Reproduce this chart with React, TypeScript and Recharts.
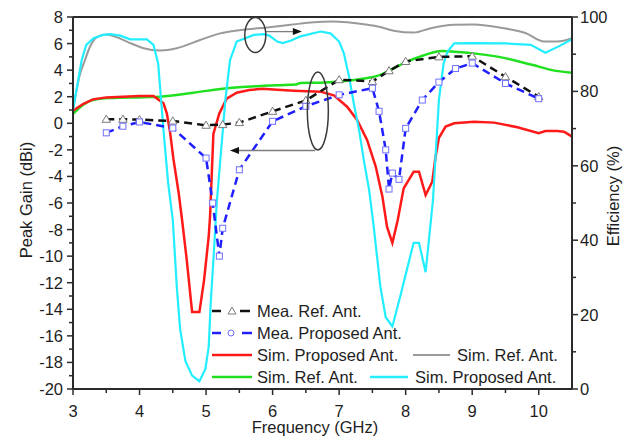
import React from "react";
import { ComposedChart, Line, XAxis, YAxis, ReferenceLine, ReferenceDot } from "recharts";

// Frequency (GHz) / value pairs
const meaRefGain = [
  [3.5, 0.3], [3.75, 0.3], [4.0, 0.28], [4.5, 0.17], [5.0, -0.15], [5.25, -0.1], [5.5, 0.05],
  [6.0, 0.9], [6.5, 1.72], [7.0, 3.28], [7.5, 3.15], [7.75, 3.95], [8.0, 4.65], [8.5, 5.0],
  [9.0, 5.05], [9.5, 3.5], [10.0, 2.0],
];

const meaPropGain = [
  [3.5, -0.72], [3.75, -0.22], [4.0, 0.1], [4.5, -0.36], [5.0, -2.62], [5.1, -6.0], [5.2, -10.0],
  [5.25, -7.9], [5.5, -3.5], [6.0, 0.15], [6.5, 1.28], [7.0, 2.14], [7.5, 2.64], [7.6, 0.9],
  [7.7, -2.0], [7.75, -4.95], [7.8, -3.75], [7.9, -4.22], [8.0, -0.38], [8.25, 1.75], [8.5, 3.1],
  [8.75, 4.12], [9.0, 4.53], [9.5, 3.0], [10.0, 1.85],
];

const simPropGain = [
  [3.0, 0.95], [3.15, 1.45], [3.3, 1.8], [3.5, 1.95], [3.75, 2.0], [4.0, 2.05], [4.21, 2.06],
  [4.28, 1.8], [4.36, 1.5], [4.41, 0.75], [4.46, -0.7], [4.51, -2.7], [4.59, -5.3], [4.64, -7.3],
  [4.71, -10.3], [4.79, -14.2], [4.9, -14.2], [4.97, -11.8], [5.04, -8.5], [5.06, -7.0],
  [5.11, -0.8], [5.2, 0.75], [5.31, 1.85], [5.46, 2.3], [5.65, 2.5], [5.85, 2.6], [6.07, 2.52],
  [6.32, 2.45], [6.72, 2.38], [6.92, 2.1], [7.12, 1.25], [7.27, 0.25], [7.42, -1.25],
  [7.55, -3.26], [7.65, -5.5], [7.72, -7.8], [7.8, -9.0], [7.88, -7.3], [7.97, -4.9],
  [8.12, -3.65], [8.2, -3.65], [8.3, -5.4], [8.4, -4.4], [8.45, -2.5], [8.5, -1.1], [8.6, -0.25],
  [8.73, 0.0], [9.03, 0.12], [9.33, 0.05], [9.68, -0.3], [10.0, -0.75], [10.1, -0.58],
  [10.28, -0.58], [10.38, -0.63], [10.5, -1.0],
];

const simRefGain = [
  [3.0, 0.7], [3.15, 1.38], [3.3, 1.76], [3.56, 1.9], [4.06, 1.96], [4.31, 2.0], [4.81, 2.3],
  [5.31, 2.64], [5.82, 2.81], [6.27, 2.9], [6.35, 2.92], [6.42, 3.04], [6.72, 3.06], [7.22, 3.26],
  [7.62, 3.64], [7.92, 4.4], [8.18, 4.95], [8.55, 5.45], [8.95, 5.3], [9.4, 5.0], [9.9, 4.4],
  [10.2, 4.0], [10.5, 3.8],
];

const simRefEff = [
  [3.0, 75.0], [3.1, 84.3], [3.18, 88.4], [3.25, 91.8], [3.36, 94.6], [3.5, 95.3], [3.65, 94.6],
  [3.81, 93.4], [4.06, 91.6], [4.31, 91.0], [4.56, 91.6], [4.91, 93.8], [5.21, 95.6], [5.52, 96.5],
  [5.92, 97.2], [6.27, 97.9], [6.62, 98.6], [6.9, 98.8], [7.12, 98.6], [7.4, 98.0], [7.62, 97.3],
  [7.82, 96.3], [8.12, 95.8], [8.38, 97.0], [8.73, 97.9], [9.03, 98.0], [9.43, 97.1], [9.8, 95.7],
  [10.08, 93.4], [10.28, 93.4], [10.5, 94.3],
];

const simPropEff = [
  [3.0, 75.0], [3.13, 88.4], [3.2, 92.5], [3.31, 94.3], [3.45, 95.2], [3.56, 95.4], [3.71, 95.0],
  [3.86, 94.0], [4.11, 94.0], [4.21, 92.5], [4.28, 87.5], [4.36, 69.6], [4.43, 55.4], [4.5, 45.4],
  [4.56, 27.5], [4.61, 16.1], [4.69, 7.5], [4.79, 3.6], [4.9, 2.1], [4.99, 5.4], [5.04, 11.4],
  [5.07, 23.2], [5.12, 37.5], [5.16, 50.0], [5.21, 60.7], [5.29, 77.7], [5.36, 88.4], [5.46, 93.4],
  [5.72, 95.2], [5.87, 95.4], [5.95, 95.0], [6.07, 93.4], [6.15, 93.0], [6.27, 93.6], [6.42, 94.8],
  [6.72, 96.1], [6.87, 95.6], [7.0, 93.4], [7.07, 90.3], [7.15, 83.9], [7.22, 76.8], [7.3, 69.6],
  [7.37, 61.6], [7.45, 53.6], [7.52, 43.6], [7.62, 27.5], [7.7, 19.3], [7.8, 16.8], [7.92, 25.0],
  [8.03, 32.9], [8.12, 39.3], [8.2, 39.3], [8.3, 31.4], [8.41, 50.7], [8.5, 77.7], [8.57, 87.5],
  [8.63, 90.7], [8.73, 92.9], [9.0, 93.0], [9.5, 92.9], [9.88, 92.5], [10.1, 90.4], [10.3, 92.1],
  [10.5, 94.0],
];

const freqTicks = [3, 3.5, 4, 4.5, 5, 5.5, 6, 6.5, 7, 7.5, 8, 8.5, 9, 9.5, 10];
const gainTicks = [
  -20, -19, -18, -17, -16, -15, -14, -13, -12, -11, -10, -9, -8, -7, -6, -5, -4, -3, -2, -1,
  0, 1, 2, 3, 4, 5, 6, 7, 8,
];
const effTicks = [0, 10, 20, 30, 40, 50, 60, 70, 80, 90, 100];

const FONT = "'Liberation Sans', Arial, sans-serif";
const AXIS = "#2b2b2b";
const TXT = "#1e1e1e";

const rows = (pts: number[][]) => pts.map(([f, v]) => ({ f, v }));

function BottomTick({ x, y, payload }: any) {
  const v = payload.value;
  const major = Number.isInteger(v);
  return (
    <g>
      <line x1={x} x2={x} y1={y} y2={y + (major ? 6 : 4)} stroke={AXIS} strokeWidth={1.5} />
      {major && (
        <text x={x} y={y + 27.5} textAnchor="middle" fontSize={16.5} fontFamily={FONT} fill={TXT}>
          {v}
        </text>
      )}
    </g>
  );
}

function LeftTick({ x, y, payload }: any) {
  const v = payload.value;
  const major = v % 2 === 0;
  return (
    <g>
      <line x1={x} x2={x - (major ? 6 : 4)} y1={y} y2={y} stroke={AXIS} strokeWidth={1.5} />
      {major && (
        <text x={x - 10} y={y + 6} textAnchor="end" fontSize={16.5} fontFamily={FONT} fill={TXT}>
          {v}
        </text>
      )}
    </g>
  );
}

function RightTick({ x, y, payload }: any) {
  const v = payload.value;
  const major = v % 20 === 0;
  return (
    <g>
      <line x1={x} x2={x + (major ? 6 : 4)} y1={y} y2={y} stroke={AXIS} strokeWidth={1.5} />
      {major && (
        <text x={x + 8} y={y + 6} textAnchor="start" fontSize={16.5} fontFamily={FONT} fill={TXT}>
          {v}
        </text>
      )}
    </g>
  );
}

const triangleDot = (p: any) => (
  <path
    key={`t${p.index}`}
    d={`M${p.cx},${p.cy - 4.2} L${p.cx + 4.2},${p.cy + 3} L${p.cx - 4.2},${p.cy + 3} Z`}
    fill="#fff"
    stroke="#7a7a7a"
    strokeWidth={1}
  />
);

const squareDot = (p: any) => (
  <rect key={`s${p.index}`} x={p.cx - 3} y={p.cy - 3} width={6} height={6} fill="#fff" stroke="#6f6fff" strokeWidth={1} />
);

const arrowShape = (p: any) => {
  const { x1, y1, x2, y2 } = p;
  if (x1 == null) return <g />;
  const dir = x2 > x1 ? 1 : -1;
  return (
    <g>
      <line x1={x1} y1={y1} x2={x2 - dir * 6} y2={y2} stroke="#7d7d7d" strokeWidth={1.3} />
      <path d={`M${x2},${y2} L${x2 - dir * 9},${y2 - 3.5} L${x2 - dir * 9},${y2 + 3.5} Z`} fill="#111" />
    </g>
  );
};

const ellipseShape = (rx: number, ry: number) => (p: any) =>
  <ellipse cx={p.cx} cy={p.cy} rx={rx} ry={ry} fill="none" stroke="#3a3a3a" strokeWidth={1.5} />;

function LegendBox() {
  const t = { fontSize: 16.5, fontFamily: FONT, fill: TXT };
  return (
    <svg width={627} height={439} style={{ position: "absolute", left: 0, top: 0, pointerEvents: "none" }}>
      <line x1={212} x2={221} y1={311} y2={311} stroke="#111" strokeWidth={2.5} />
      <path d="M232,307 L236,314 L228,314 Z" fill="#fff" stroke="#7a7a7a" strokeWidth={1} />
      <line x1={240} x2={250} y1={311} y2={311} stroke="#111" strokeWidth={2.5} />
      <text x={257} y={317} {...t}>Mea. Ref. Ant.</text>

      <line x1={212} x2={221} y1={333} y2={333} stroke="#1f1fff" strokeWidth={2.5} />
      <circle cx={231} cy={333} r={3} fill="#fff" stroke="#6f6fff" strokeWidth={1} />
      <line x1={242} x2={252} y1={333} y2={333} stroke="#1f1fff" strokeWidth={2.5} />
      <text x={257} y={339} {...t}>Mea. Proposed Ant.</text>

      <line x1={212} x2={252} y1={355} y2={355} stroke="#ff1a1a" strokeWidth={2.5} />
      <text x={257} y={361} {...t}>Sim. Proposed Ant.</text>
      <line x1={413} x2={450} y1={355} y2={355} stroke="#9a9a9a" strokeWidth={2} />
      <text x={457} y={361} {...t}>Sim. Ref. Ant.</text>

      <line x1={212} x2={252} y1={377} y2={377} stroke="#20e020" strokeWidth={2.5} />
      <text x={257} y={383} {...t}>Sim. Ref. Ant.</text>
      <line x1={370} x2={408} y1={377} y2={377} stroke="#22eeff" strokeWidth={2.5} />
      <text x={415} y={383} {...t}>Sim. Proposed Ant.</text>

      <text x={315} y={433} textAnchor="middle" {...t}>Frequency (GHz)</text>
      <text transform="translate(32,200) rotate(-90)" textAnchor="middle" {...t}>Peak Gain (dBi)</text>
      <text transform="translate(619,196) rotate(-90)" textAnchor="middle" {...t}>Efficiency (%)</text>
    </svg>
  );
}

export default function App() {
  return (
    <div style={{ position: "absolute", left: 0, top: 0, width: 627, height: 439, background: "#fff" }}>
      <ComposedChart width={627} height={439} margin={{ top: 17, right: 0, bottom: 0, left: 0 }}>
        <XAxis
          type="number"
          dataKey="f"
          domain={[3, 10.5]}
          ticks={freqTicks}
          interval={0}
          height={50}
          tickSize={0}
          tickMargin={0}
          tickLine={false}
          tick={(p: any) => <BottomTick {...p} />}
          axisLine={{ stroke: AXIS, strokeWidth: 2 }}
          allowDataOverflow
        />
        <YAxis
          yAxisId="left"
          type="number"
          domain={[-20, 8]}
          ticks={gainTicks}
          interval={0}
          width={73}
          tickSize={0}
          tickMargin={0}
          tickLine={false}
          tick={(p: any) => <LeftTick {...p} />}
          axisLine={{ stroke: AXIS, strokeWidth: 2 }}
          allowDataOverflow
        />
        <YAxis
          yAxisId="right"
          orientation="right"
          type="number"
          domain={[0, 100]}
          ticks={effTicks}
          interval={0}
          width={55}
          tickSize={0}
          tickMargin={0}
          tickLine={false}
          tick={(p: any) => <RightTick {...p} />}
          axisLine={{ stroke: AXIS, strokeWidth: 2 }}
          allowDataOverflow
        />
        <ReferenceLine yAxisId="left" y={8} stroke={AXIS} strokeWidth={2} />

        <Line yAxisId="right" data={rows(simRefEff)} dataKey="v" type="monotone" stroke="#9a9a9a" strokeWidth={2} dot={false} isAnimationActive={false} />
        <Line yAxisId="left" data={rows(simRefGain)} dataKey="v" type="monotone" stroke="#20e020" strokeWidth={2.5} dot={false} isAnimationActive={false} />
        <Line yAxisId="left" data={rows(simPropGain)} dataKey="v" type="linear" stroke="#ff1a1a" strokeWidth={2.5} dot={false} isAnimationActive={false} />
        <Line yAxisId="right" data={rows(simPropEff)} dataKey="v" type="linear" stroke="#22eeff" strokeWidth={2.2} dot={false} isAnimationActive={false} />
        <Line yAxisId="left" data={rows(meaRefGain)} dataKey="v" type="linear" stroke="#111" strokeWidth={2.5} strokeDasharray="8 5" dot={triangleDot} isAnimationActive={false} />
        <Line yAxisId="left" data={rows(meaPropGain)} dataKey="v" type="linear" stroke="#1f1fff" strokeWidth={2.5} strokeDasharray="8 5" dot={squareDot} isAnimationActive={false} />

        <ReferenceDot yAxisId="left" x={5.74} y={6.65} shape={ellipseShape(10.5, 17.5)} />
        <ReferenceLine yAxisId="left" segment={[{ x: 5.89, y: 6.9 }, { x: 6.44, y: 6.9 }]} shape={arrowShape} />
        <ReferenceDot yAxisId="left" x={6.68} y={0.93} shape={ellipseShape(10.5, 39)} />
        <ReferenceLine yAxisId="left" segment={[{ x: 6.64, y: -2.05 }, { x: 5.36, y: -2.05 }]} shape={arrowShape} />
      </ComposedChart>
      <LegendBox />
    </div>
  );
}
